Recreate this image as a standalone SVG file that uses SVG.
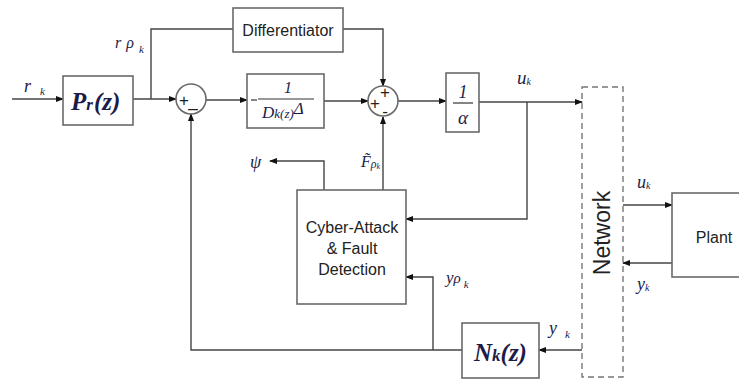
<svg xmlns="http://www.w3.org/2000/svg" width="739" height="380" viewBox="0 0 739 380">
<defs>
<marker id="ah" markerWidth="8" markerHeight="6" refX="7" refY="3" orient="auto" markerUnits="userSpaceOnUse">
<path d="M0,0 L8,3 L0,6 Z" fill="#111"/>
</marker>
<style>
.box{fill:#fff;stroke:#6a6a6a;stroke-width:1.6}
.ln{fill:none;stroke:#444;stroke-width:1.4}
.lna{fill:none;stroke:#444;stroke-width:1.4;marker-end:url(#ah)}
.sans{font-family:"Liberation Sans",Arial,sans-serif;fill:#222}
.m{font-family:"Liberation Serif","Times New Roman",serif;font-style:italic;fill:#1c1c48}
.sgn{font-family:"Liberation Sans",Arial,sans-serif;fill:#222;font-size:17px;text-anchor:middle}
</style>
</defs>
<rect width="739" height="380" fill="#fff"/>

<g id="connectors">
<path class="lna" d="M12,99 H63"/>
<path class="lna" d="M133,99 H176"/>
<path class="ln" d="M151,99 V29 H233"/>
<path class="lna" d="M343,29 H383 V86"/>
<path class="lna" d="M206,100 H247"/>
<path class="lna" d="M324,101 H368"/>
<path class="lna" d="M398,101 H446"/>
<path class="lna" d="M479,102 H582"/>
<path class="lna" d="M527,102 V219 H406"/>
<path class="lna" d="M383,190 V117"/>
<path class="lna" d="M324,190 V161 H270"/>
<path class="lna" d="M623,205 H672"/>
<path class="lna" d="M672,263 H623"/>
<path class="lna" d="M582,350 H539"/>
<path class="lna" d="M462,350 H191 V114"/>
<path class="lna" d="M433,350 V277 H406"/>
</g>

<g id="labels">
<text class="m" x="24" y="92" font-size="18">r<tspan font-size="11" dx="9" dy="3">k</tspan></text>
<text class="m" x="115" y="48" font-size="16">r<tspan dx="5">ρ</tspan><tspan font-size="11" dx="5" dy="5">k</tspan></text>
<text class="m" x="517" y="84" font-size="19">u<tspan font-size="10" dy="1">k</tspan></text>
<text class="m" x="250" y="168" font-size="18">ψ</text>
<text class="m" x="361" y="167" font-size="16">F̃<tspan font-size="12" dy="1">ρ</tspan><tspan font-size="8" dy="1">k</tspan></text>
<text class="m" x="446" y="283" font-size="17">y<tspan font-size="15">ρ</tspan><tspan font-size="11" dx="3" dy="5">k</tspan></text>
<text class="m" x="549" y="334" font-size="18">y<tspan font-size="11" dx="8" dy="4">k</tspan></text>
<text class="m" x="637" y="188" font-size="18">u<tspan font-size="10" dy="1">k</tspan></text>
<text class="m" x="637" y="290" font-size="18">y<tspan font-size="10" dy="1">k</tspan></text>
</g>

<g id="prefilter">
<rect class="box" x="63" y="76" width="70" height="49"/>
<text class="m" x="71" y="110" font-size="25" font-weight="bold">P<tspan font-size="17">r</tspan><tspan dx="1">(z)</tspan></text>
</g>

<g id="differentiator">
<rect class="box" x="233" y="8" width="110" height="44"/>
<text class="sans" x="288" y="36" font-size="16" text-anchor="middle">Differentiator</text>
</g>

<g id="sum1">
<circle class="box" cx="191" cy="99" r="15"/>
<text class="sgn" x="184" y="106">+</text>
<text class="sgn" x="193" y="107">_</text>
</g>

<g id="controller">
<rect class="box" x="247" y="74" width="77" height="54"/>
<line x1="251" y1="100" x2="257" y2="100" stroke="#333" stroke-width="1.2"/>
<line x1="258" y1="99" x2="314" y2="99" stroke="#333" stroke-width="1.2"/>
<text class="m" x="288" y="93" font-size="16" text-anchor="middle">1</text>
<text class="m" x="262" y="118" font-size="17">D<tspan font-size="13">k(z)</tspan><tspan dy="-4">Δ</tspan></text>
</g>

<g id="sum2">
<circle class="box" cx="383" cy="101" r="15"/>
<text class="sgn" x="385" y="98">+</text>
<text class="sgn" x="375" y="109">+</text>
<text class="sgn" x="385" y="117">-</text>
</g>

<g id="gain">
<rect class="box" x="446" y="73" width="33" height="59"/>
<line x1="453" y1="103" x2="473" y2="103" stroke="#333" stroke-width="1.2"/>
<text class="m" x="463" y="98" font-size="18" text-anchor="middle">1</text>
<text class="m" x="463" y="124" font-size="19" text-anchor="middle">α</text>
</g>

<g id="detector">
<rect class="box" x="297" y="190" width="109" height="114"/>
<text class="sans" x="352" y="233" font-size="16" text-anchor="middle">Cyber-Attack</text>
<text class="sans" x="352" y="254" font-size="16" text-anchor="middle">&amp; Fault</text>
<text class="sans" x="352" y="275" font-size="16" text-anchor="middle">Detection</text>
</g>

<g id="network">
<rect x="582" y="87" width="41" height="290" fill="none" stroke="#777" stroke-width="1.4" stroke-dasharray="6,4"/>
<text class="sans" x="0" y="0" font-size="23" text-anchor="middle" transform="translate(610,233) rotate(-90)">Network</text>
</g>

<g id="plant">
<rect class="box" x="672" y="193" width="80" height="84"/>
<text class="sans" x="714" y="243" font-size="16" text-anchor="middle">Plant</text>
</g>

<g id="filter">
<rect class="box" x="462" y="323" width="77" height="55"/>
<text class="m" x="474" y="361" font-size="25" font-weight="bold">N<tspan font-size="17">k</tspan><tspan>(z)</tspan></text>
</g>
</svg>
